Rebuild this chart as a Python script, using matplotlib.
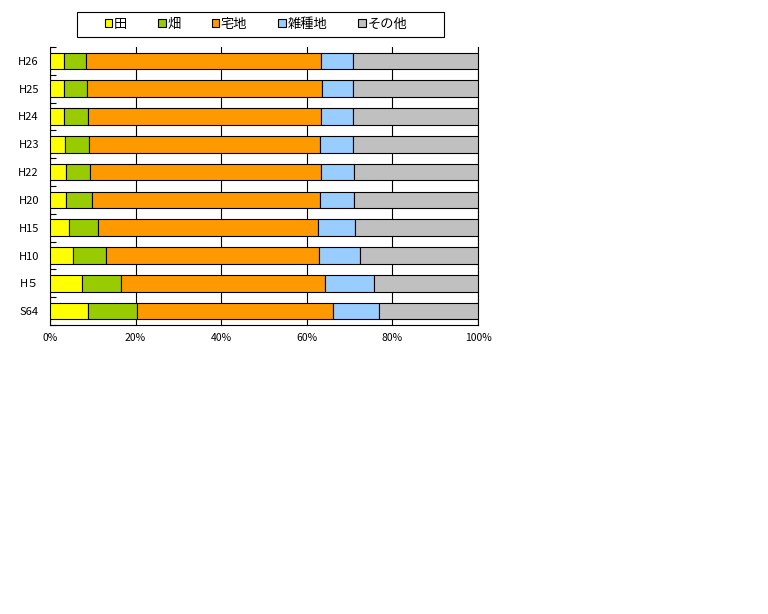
import matplotlib
matplotlib.use("Agg")
import matplotlib.pyplot as plt
from matplotlib.patches import Patch, Rectangle
import numpy as np

plt.rcParams['font.family'] = ['Noto Sans CJK JP', 'DejaVu Sans']

years = ["H26", "H25", "H24", "H23", "H22", "H20", "H15", "H10", "H５", "S64"]
series_names = ["田", "畑", "宅地", "雑種地", "その他"]
ta = [3.3, 3.3, 3.3, 3.5, 3.7, 3.7, 4.4, 5.4, 7.5, 8.9]
hata = [5.1, 5.4, 5.6, 5.6, 5.6, 6.1, 6.8, 7.7, 9.1, 11.4]
takuchi = [55.0, 54.8, 54.5, 54.0, 54.1, 53.3, 51.5, 49.8, 47.7, 45.9]
zasshuchi = [7.45, 7.45, 7.45, 7.75, 7.7, 8.0, 8.6, 9.6, 11.5, 10.7]
sonota = [29.15, 29.15, 29.15, 29.15, 28.9, 28.9, 28.7, 27.5, 24.2, 23.1]
colors = ["#FFFF00", "#99CC00", "#FF9900", "#99CCFF", "#C0C0C0"]
xticklabels = ["0%", "20%", "40%", "60%", "80%", "100%"]

data = np.array([ta, hata, takuchi, zasshuchi, sonota])
data = data / data.sum(axis=0)

fig = plt.figure(figsize=(7.68, 6.14), dpi=100)
W, H = 768, 614
ax = fig.add_axes([50 / W, 1 - 325 / H, 428 / W, 278 / H])

y = np.arange(len(years))[::-1]
left = np.zeros(len(years))
for vals, c, name in zip(data, colors, series_names):
    ax.barh(y, vals, left=left, height=0.6, color=c, edgecolor="black",
            linewidth=0.8, label=name, zorder=3)
    left += vals

ax.set_xlim(0, 1)
ax.set_ylim(-0.5, len(years) - 0.5)
ax.set_xticks(np.linspace(0, 1, 6))
ax.set_xticklabels(xticklabels, fontsize=7.5)
ax.set_yticks(y)
ax.set_yticklabels(years, fontsize=8)
ax.set_yticks(np.arange(-0.5, len(years)), minor=True)
ax.tick_params(axis="y", which="major", length=0, pad=8)
ax.tick_params(axis="y", which="minor", length=4, direction="in", width=0.8)
ax.tick_params(axis="x", length=0, pad=6)
ax.grid(axis="x", color="black", linewidth=0.8, zorder=0)
ax.spines["top"].set_visible(False)
for s in ["left", "bottom", "right"]:
    ax.spines[s].set_linewidth(0.8)

# legend frame
fig.patches.append(Rectangle((77 / W, 1 - 37 / H), 367 / W, 25 / H,
                             transform=fig.transFigure, fill=False,
                             edgecolor="black", linewidth=0.8))
handles = [Patch(facecolor=c, edgecolor="black", linewidth=0.8) for c in colors]
fig.legend(handles, series_names, loc="center",
           bbox_to_anchor=(256 / W, 1 - 24.5 / H), ncol=5, frameon=False,
           fontsize=9.5, handlelength=0.58, handleheight=0.58,
           handletextpad=0.12, columnspacing=2.35)

fig.savefig("out.png", dpi=100)
